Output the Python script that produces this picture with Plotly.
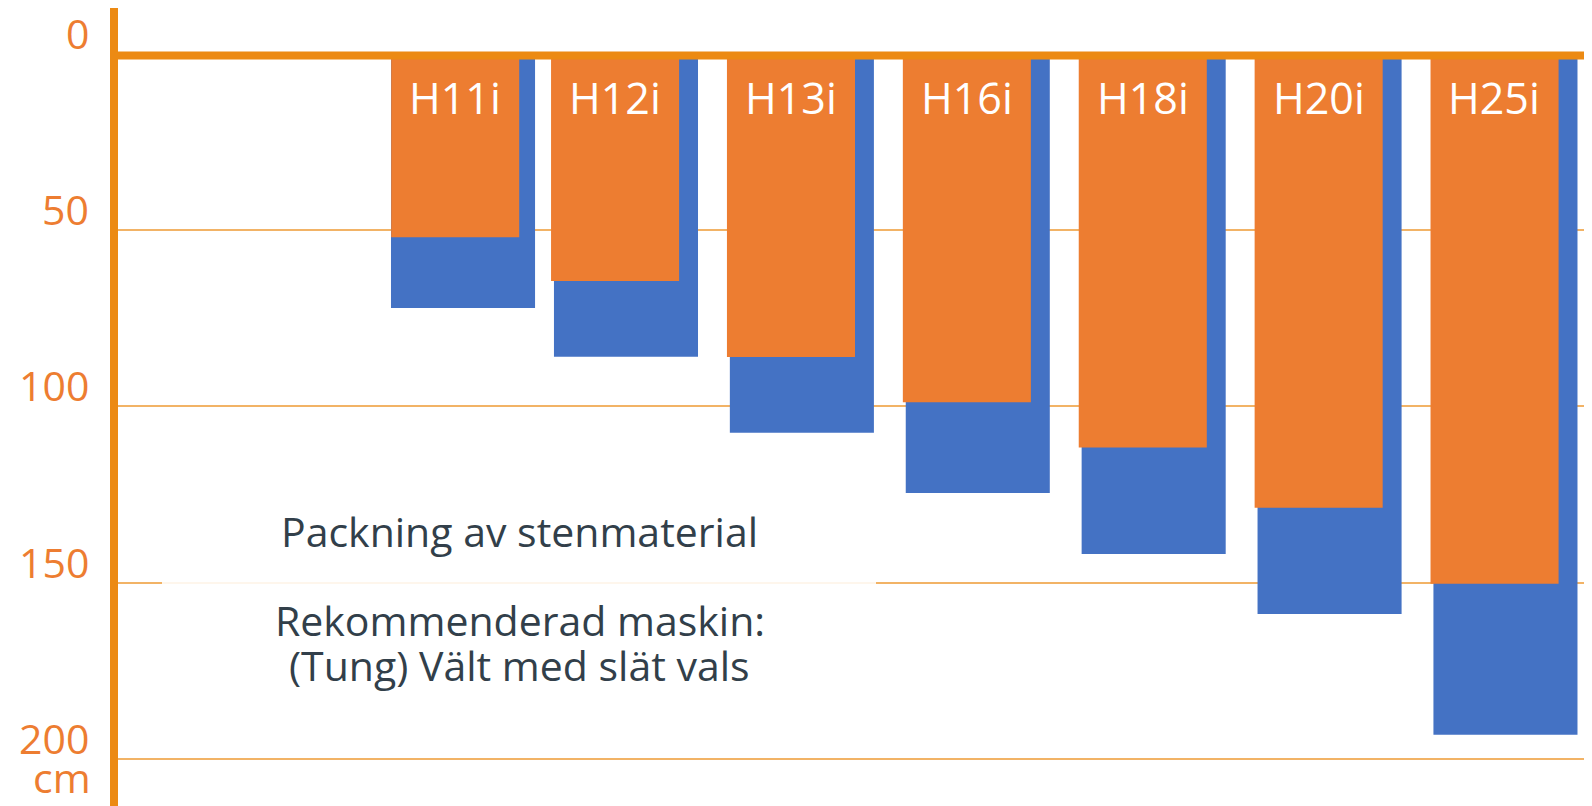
import plotly.graph_objects as go

# ---- data ----
categories = ["H11i", "H12i", "H13i", "H16i", "H18i", "H20i", "H25i"]
orange_vals = [52.0, 64.4, 86.0, 98.8, 111.7, 128.8, 150.3]
blue_vals = [72.1, 85.9, 107.5, 124.6, 141.9, 158.9, 193.2]
y_ticks = [0, 50, 100, 150, 200]
y_tick_text = ["0", "50", "100", "150", "200"]
unit_label = "cm"
note_title = "Packning av stenmaterial"
note_lines = ["Rekommenderad maskin:", "(Tung) Vält med slät vals"]

# ---- style ----
ORANGE = "#ED7D31"
BLUE = "#4472C4"
AXIS = "#EC8A13"
GRID = "#F2B366"
TEXT = "#323F4A"
FONT = "Open Sans"

# page has an 8px body margin, so the figure fills the rest of the window
FIG_W, FIG_H = 1584, 798
L = 110
PLOT_W = FIG_W - L

blue_width = 0.819
orange_width = 0.728
blue_offset = [-0.336] + [-0.4095] * (len(categories) - 1)
orange_offset = [-0.335] + [-0.426] * (len(categories) - 1)

fig = go.Figure()
fig.add_trace(go.Bar(x=categories, y=blue_vals, width=blue_width, offset=blue_offset,
                     marker=dict(color=BLUE, line=dict(width=0)), hoverinfo="skip"))
fig.add_trace(go.Bar(x=categories, y=orange_vals, width=orange_width, offset=orange_offset,
                     marker=dict(color=ORANGE, line=dict(width=0)), hoverinfo="skip"))

annotations = []
for i, c in enumerate(categories):
    annotations.append(dict(x=c, y=0, xref="x", yref="y", text=c, showarrow=False,
                            xanchor="center", yanchor="middle", yshift=-44,
                            xshift=(5 if i == 0 else -11),
                            font=dict(family=FONT, size=43, color="white")))

# y tick labels (sit above their gridlines)
for v, t in zip(y_ticks, y_tick_text):
    annotations.append(dict(x=0, xref="paper", xanchor="right", xshift=-27,
                            y=v, yref="y", yanchor="middle", yshift=21,
                            text=t, showarrow=False,
                            font=dict(family=FONT, size=41, color=ORANGE)))

# unit label under the axis
annotations.append(dict(x=0, xref="paper", xanchor="right", xshift=-25,
                        y=200, yref="y", yanchor="middle", yshift=-18,
                        text=unit_label, showarrow=False,
                        font=dict(family=FONT, size=41, color=ORANGE)))

# note text block
note_x = (520 - 8 - L) / PLOT_W
for txt, yv in [(note_title, 135.3), (note_lines[0], 160.6), (note_lines[1], 173.5)]:
    annotations.append(dict(x=note_x, xref="paper", y=yv, yref="y", text=txt,
                            showarrow=False, xanchor="center", yanchor="middle",
                            font=dict(family=FONT, size=41, color=TEXT)))

shapes = [
    # white translucent panel behind the note
    dict(type="rect", xref="paper", yref="y",
         x0=(162 - 8 - L) / PLOT_W, x1=(876 - 8 - L) / PLOT_W,
         y0=122, y1=183, fillcolor="rgba(255,255,255,0.88)", line=dict(width=0), layer="above"),
    # thick zero line
    dict(type="line", xref="paper", yref="y", x0=0, x1=1, y0=0.4, y1=0.4,
         line=dict(color=AXIS, width=8), layer="above"),
]

fig.update_layout(
    width=FIG_W, height=FIG_H,
    margin=dict(l=L, r=0, t=0, b=0),
    paper_bgcolor="white", plot_bgcolor="white",
    barmode="overlay", showlegend=False,
    annotations=annotations, shapes=shapes,
    font=dict(family=FONT),
)
fig.update_xaxes(type="category", range=[-1.888, 6.492], showticklabels=False,
                 showgrid=False, zeroline=False, showline=False, ticks="")
fig.update_yaxes(range=[213.4, -13.05], tickvals=y_ticks, showticklabels=False,
                 showgrid=True, gridcolor=GRID, gridwidth=2, zeroline=False,
                 showline=True, linecolor=AXIS, linewidth=8, ticks="")

fig.write_html("out.html")
